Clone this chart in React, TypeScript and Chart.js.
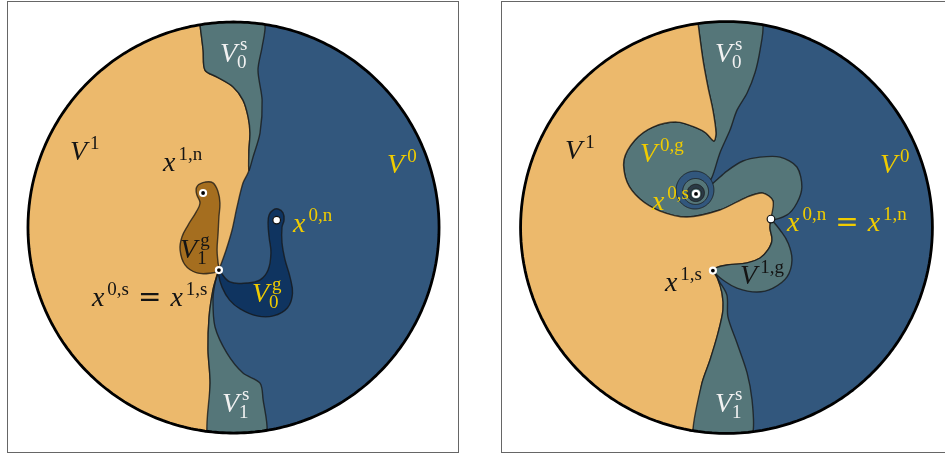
import React, { useEffect, useRef } from 'react';
import { Chart, registerables } from 'chart.js';

Chart.register(...registerables);

type Pt = [number, number];

// Palette
const ORANGE = '#ECB96C';
const BLUE = '#32577D';
const TEAL = '#557679';
const BROWN = '#A56E1F';
const NAVY = '#0F3460';
const DUSK = '#2B3A45';
const EDGE = 'rgba(22,22,22,0.75)';
const INK = '#141414';
const GOLD = '#F0CC00';
const CHALK = '#F2F2F2';

// Coordinates: unit disk scaled to radius 100, centre at the origin, y up.

// ---- Left panel ----
const p1TopStripWest: Pt[] = [
  [-16.3, 98.5], [-14.8, 86.4], [-13.9, 76.6], [-8.0, 73.2], [-0.2, 68.4],
  [4.6, 62.0], [7.1, 53.8], [8.0, 46.0], [7.5, 37.7], [7.5, 27.9],
];
const p1TopStripEast: Pt[] = [
  [15.3, 98.5], [13.9, 87.8], [11.9, 76.6], [13.9, 62.0], [12.9, 46.0], [9.5, 34.3], [7.5, 27.9],
];
const p1Seam: Pt[] = [
  [7.5, 27.9], [4.6, 21.7], [1.7, 10.0], [-0.7, -1.2], [-3.6, -10.9], [-7.1, -20.7],
];
const p1BotStripWest: Pt[] = [
  [-7.1, -20.7], [-8.0, -23.1], [-10.0, -30.4], [-11.9, -43.6], [-12.4, -59.6], [-11.4, -75.7], [-12.9, -99.0],
];
const p1BotStripEast: Pt[] = [
  [-7.1, -20.7], [-9.0, -27.0], [-10.0, -35.3], [-9.0, -48.4], [-3.2, -61.1],
  [4.6, -70.8], [12.9, -75.7], [14.4, -83.9], [16.3, -98.6],
];
const p1GourdOne: Pt[] = [
  [-17.3, 20.7], [-13.9, 22.1], [-10.0, 21.7], [-7.5, 17.3], [-6.6, 11.9], [-7.1, 5.1],
  [-7.5, -2.7], [-8.0, -10.9], [-7.5, -17.3], [-7.1, -20.7], [-10.5, -22.1], [-17.8, -22.1],
  [-23.6, -18.2], [-26.0, -10.9], [-25.1, -4.6], [-22.1, 1.2], [-18.2, 7.5], [-16.3, 11.9],
  [-17.8, 15.8], [-18.2, 18.7],
];
const p1GourdZero: Pt[] = [
  [-7.1, -20.7], [-1.7, -26.5], [6.6, -27.0], [12.9, -25.5], [16.8, -20.7], [18.2, -12.4],
  [17.3, -4.6], [16.8, 2.2], [17.3, 6.1], [19.2, 8.5], [21.7, 9.0], [24.1, 7.1], [24.6, 3.6],
  [23.6, 0.2], [23.6, -7.5], [25.1, -15.8], [27.5, -24.1], [28.7, -32.1], [26.3, -39.0],
  [19.4, -43.0], [11.4, -43.0], [3.2, -39.6], [-1.9, -35.3], [-5.6, -29.0], [-7.5, -22.1],
];
const p1Saddle: Pt = [-7.1, -20.7];
const p1North1: Pt = [-14.8, 16.8];
const p1North0: Pt = [21.0, 3.6];

// ---- Right panel ----
const p2TopStripWest: Pt[] = [
  [-13.8, 99.0], [-11.4, 81.3], [-9.0, 68.2], [-6.6, 57.0], [-5.1, 45.9], [-6.1, 42.0],
];
const p2LobeWestRim: Pt[] = [
  [-10.0, 45.9], [-14.3, 48.3], [-24.0, 51.2], [-35.7, 48.8], [-44.4, 42.5], [-49.8, 32.8],
  [-48.3, 22.1], [-42.0, 13.8], [-32.3, 8.0], [-19.2, 5.1], [-3.2, 8.5], [10.0, 14.8],
  [17.7, 16.7], [22.6, 12.9], [21.6, 4.1],
];
const p2TopStripEast: Pt[] = [
  [17.7, 98.3], [16.3, 86.2], [13.8, 75.0], [10.0, 65.3], [5.1, 57.0], [1.7, 47.3],
  [-3.2, 36.2], [-7.0, 24.5], [-10.4, 19.2],
];
const p2LobeEastCrest: Pt[] = [
  [-7.0, 21.1], [0.2, 27.4], [8.0, 32.3], [16.3, 34.2], [26.0, 34.2], [34.2, 29.4],
  [36.6, 19.7], [34.2, 11.9], [29.4, 6.1], [21.6, 4.1],
];
const p2GourdOuter: Pt[] = [
  [21.6, 4.1], [26.0, -1.2], [29.9, -7.5], [31.8, -15.8], [29.4, -24.0], [22.6, -29.4],
  [14.8, -31.3], [5.1, -29.4], [-1.7, -25.5], [-5.6, -22.1], [-6.6, -20.9],
];
const p2GourdInner: Pt[] = [
  [21.6, 4.1], [21.1, -0.2], [22.1, -6.1], [20.1, -10.9], [16.3, -14.8], [10.0, -17.2],
  [0.2, -18.2], [-5.6, -19.7], [-6.6, -20.9],
];
const p2BotStripWest: Pt[] = [
  [-6.6, -20.9], [-4.6, -24.0], [-2.2, -31.8], [-1.7, -40.0], [-4.1, -51.2], [-8.0, -64.3],
  [-11.9, -75.5], [-16.3, -98.6],
];
const p2BotStripEast: Pt[] = [
  [-6.6, -20.9], [-3.6, -26.0], [0.2, -32.8], [0.7, -43.4], [5.1, -56.1], [10.0, -70.6],
  [12.4, -83.7], [12.9, -99.0],
];
// whorl around x^{0,s}: [cx, cy, r], outermost first
const p2Whorl: [number, number, number][] = [
  [-15.3, 18.2, 9.2], [-15.0, 17.5, 6.3], [-14.9, 16.8, 4.2], [-14.8, 16.4, 2.6],
];
const p2WhorlColors = [BLUE, TEAL, DUSK, TEAL];
const p2South0: Pt = [-14.8, 16.3];
const p2North: Pt = [21.6, 4.1];
const p2South1: Pt = [-6.6, -20.9];

// ---- Labels ----
type Token = string[];
type MathLabel = { x: number; y: number; color: string; tokens: Token[] };

const p1Labels: MathLabel[] = [
  { x: -79.6, y: 32.8, color: INK, tokens: [['i', 'V'], ['sup', '1']] },
  { x: -34.3, y: 27.5, color: INK, tokens: [['i', 'x'], ['sup', '1,n']] },
  { x: 74.7, y: 26.5, color: GOLD, tokens: [['i', 'V'], ['sup', '0']] },
  { x: 29.0, y: -2.2, color: GOLD, tokens: [['i', 'x'], ['sup', '0,n']] },
  { x: -26.0, y: -14.8, color: INK, tokens: [['i', 'V'], ['ss', '1', 'g']] },
  { x: 9.0, y: -36.3, color: GOLD, tokens: [['i', 'V'], ['ss', '0', 'g']] },
  { x: -68.9, y: -38.2, color: INK, tokens: [['i', 'x'], ['sup', '0,s'], ['op', '='], ['i', 'x'], ['sup', '1,s']] },
  { x: -6.6, y: 80.5, color: CHALK, tokens: [['i', 'V'], ['ss', '0', 's']] },
  { x: -5.6, y: -89.8, color: CHALK, tokens: [['i', 'V'], ['ss', '1', 's']] },
];
const p2Labels: MathLabel[] = [
  { x: -78.4, y: 33.3, color: INK, tokens: [['i', 'V'], ['sup', '1']] },
  { x: -42.0, y: 31.8, color: GOLD, tokens: [['i', 'V'], ['sup', '0,g']] },
  { x: 74.5, y: 26.5, color: GOLD, tokens: [['i', 'V'], ['sup', '0']] },
  { x: -36.2, y: 8.5, color: GOLD, tokens: [['i', 'x'], ['sup', '0,s']] },
  { x: 29.4, y: -1.7, color: GOLD, tokens: [['i', 'x'], ['sup', '0,n'], ['op', '='], ['i', 'x'], ['sup', '1,n']] },
  { x: -29.9, y: -30.8, color: INK, tokens: [['i', 'x'], ['sup', '1,s']] },
  { x: 6.6, y: -27.4, color: INK, tokens: [['i', 'V'], ['sup', '1,g']] },
  { x: -5.6, y: 80.3, color: CHALK, tokens: [['i', 'V'], ['ss', '0', 's']] },
  { x: -5.6, y: -89.6, color: CHALK, tokens: [['i', 'V'], ['ss', '1', 's']] },
];

// ---- Geometry helpers ----
const RIM_R = 100;
const deg = (p: Pt) => (Math.atan2(p[1], p[0]) * 180) / Math.PI;

function arc(from: Pt, to: Pt, ccw: boolean): Pt[] {
  const a0 = deg(from);
  let a1 = deg(to);
  if (ccw) { while (a1 <= a0) a1 += 360; } else { while (a1 >= a0) a1 -= 360; }
  const n = Math.max(2, Math.ceil(Math.abs(a1 - a0) / 2));
  const out: Pt[] = [];
  for (let i = 1; i < n; i++) {
    const a = ((a0 + ((a1 - a0) * i) / n) * Math.PI) / 180;
    out.push([RIM_R * Math.cos(a), RIM_R * Math.sin(a)]);
  }
  return out;
}

function ring(cx: number, cy: number, r: number, n = 96): Pt[] {
  const out: Pt[] = [];
  for (let i = 0; i < n; i++) {
    const a = (2 * Math.PI * i) / n;
    out.push([cx + r * Math.cos(a), cy + r * Math.sin(a)]);
  }
  return out;
}

const rev = (a: Pt[]) => [...a].reverse();
const last = (a: Pt[]) => a[a.length - 1];

// a non-zero tension keeps Chart.js on the full path renderer (no pixel-column merging)
function shape(points: Pt[], color: string, tension = 0.3, edge = EDGE, width = 1.4): any {
  const closed = [...points, points[0]];
  return {
    data: closed.map(([x, y]) => ({ x, y })),
    backgroundColor: color,
    borderColor: edge,
    borderWidth: width,
    fill: color === 'transparent' ? false : 'shape',
    tension: Math.max(tension, 0.001),
    pointRadius: 0,
    borderJoinStyle: 'round',
  };
}

function markers(pts: Pt[], dark: boolean[]): any {
  return {
    data: pts.map(([x, y]) => ({ x, y })),
    showLine: false,
    fill: false,
    pointRadius: dark.map((d) => (d ? 3.0 : 3.8)),
    pointBackgroundColor: dark.map((d) => (d ? '#000' : '#fff')),
    pointBorderColor: dark.map((d) => (d ? '#fff' : '#111')),
    pointBorderWidth: dark.map((d) => (d ? 2.2 : 1.2)),
  };
}

function leftDatasets(): any[] {
  const rim = ring(0, 0, RIM_R, 180);
  const orange: Pt[] = [
    ...p1TopStripWest,
    ...p1Seam.slice(1),
    ...p1BotStripWest.slice(1),
    ...arc(last(p1BotStripWest), p1TopStripWest[0], false),
  ];
  const topStrip: Pt[] = [
    ...p1TopStripWest,
    ...rev(p1TopStripEast).slice(1),
    ...arc(p1TopStripEast[0], p1TopStripWest[0], true),
  ];
  const botStrip: Pt[] = [
    ...p1BotStripWest,
    ...arc(last(p1BotStripWest), last(p1BotStripEast), true),
    ...rev(p1BotStripEast).slice(0, -1),
  ];
  return [
    shape(rim, BLUE, 0, 'transparent', 0),
    shape(orange, ORANGE, 0.3),
    shape(topStrip, TEAL, 0.3),
    shape(botStrip, TEAL, 0.3),
    shape(p1GourdZero, NAVY, 0.4),
    shape(p1GourdOne, BROWN, 0.4),
    shape(rim, 'transparent', 0, '#000', 2.8),
    markers([p1North1, p1Saddle, p1North0], [true, true, false]),
  ];
}

function rightDatasets(): any[] {
  const rim = ring(0, 0, RIM_R, 180);
  const teal: Pt[] = [
    p2TopStripWest[0],
    ...arc(p2TopStripWest[0], p2TopStripEast[0], false),
    ...p2TopStripEast,
    ...p2LobeEastCrest,
    ...rev(p2LobeWestRim).slice(1),
    ...rev(p2TopStripWest).slice(0, -1),
  ];
  const orange: Pt[] = [
    ...p2TopStripWest,
    ...p2LobeWestRim,
    ...p2GourdInner.slice(1),
    ...p2BotStripWest.slice(1),
    ...arc(last(p2BotStripWest), p2TopStripWest[0], false),
  ];
  const gourd: Pt[] = [...p2GourdOuter, ...rev(p2GourdInner).slice(1, -1)];
  const botStrip: Pt[] = [
    ...p2BotStripWest,
    ...arc(last(p2BotStripWest), last(p2BotStripEast), true),
    ...rev(p2BotStripEast).slice(0, -1),
  ];
  return [
    shape(rim, BLUE, 0, 'transparent', 0),
    shape(teal, TEAL, 0.3),
    shape(orange, ORANGE, 0.3),
    ...p2Whorl.map(([cx, cy, r], i) => shape(ring(cx, cy, r, 60), p2WhorlColors[i], 0, EDGE, 1)),
    shape(gourd, TEAL, 0.4),
    shape(botStrip, TEAL, 0.3),
    shape(rim, 'transparent', 0, '#000', 2.8),
    markers([p2South0, p2North, p2South1], [true, false, true]),
  ];
}

// ---- Math-style text ----
const SERIF = '"Liberation Serif", "Times New Roman", serif';
const BASE_PX = 28;
const SMALL_PX = 19;

function drawMath(ctx: CanvasRenderingContext2D, px: number, py: number, label: MathLabel) {
  let cx = px;
  ctx.save();
  ctx.fillStyle = label.color;
  ctx.textBaseline = 'alphabetic';
  ctx.textAlign = 'left';
  for (const tok of label.tokens) {
    const kind = tok[0];
    if (kind === 'i') {
      ctx.font = `italic ${BASE_PX}px ${SERIF}`;
      ctx.fillText(tok[1], cx, py);
      cx += ctx.measureText(tok[1]).width;
    } else if (kind === 'op') {
      cx += 9;
      ctx.font = `${BASE_PX}px "DejaVu Serif", serif`;
      ctx.fillText(tok[1], cx, py);
      cx += ctx.measureText(tok[1]).width + 9;
    } else if (kind === 'sup') {
      ctx.font = `${SMALL_PX}px ${SERIF}`;
      const sx = cx + 3;
      ctx.fillText(tok[1], sx, py - 11);
      cx = sx + ctx.measureText(tok[1]).width;
    } else if (kind === 'ss') {
      ctx.font = `${SMALL_PX}px ${SERIF}`;
      const wSub = ctx.measureText(tok[1]).width;
      const wSup = ctx.measureText(tok[2]).width;
      ctx.fillText(tok[1], cx, py + 6);
      ctx.fillText(tok[2], cx + 3, py - 12);
      cx += Math.max(wSub, wSup + 3);
    }
  }
  ctx.restore();
}

function mathLabels(labels: MathLabel[]) {
  return {
    id: 'mathLabels',
    afterDatasetsDraw(chart: any) {
      const { ctx, scales } = chart;
      for (const l of labels) {
        drawMath(ctx, scales.x.getPixelForValue(l.x), scales.y.getPixelForValue(l.y), l);
      }
    },
  };
}

type PanelCfg = {
  left: number;
  top: number;
  size: number;
  x: [number, number];
  y: [number, number];
  build: () => any[];
  labels: MathLabel[];
};

const PANELS: PanelCfg[] = [
  { left: 7, top: 1, size: 452, x: [-110.2, 109.7], y: [-109.7, 110.2], build: leftDatasets, labels: p1Labels },
  { left: 501, top: 1, size: 452, x: [-109.5, 110.0], y: [-109.5, 110.0], build: rightDatasets, labels: p2Labels },
];

function Panel({ cfg }: { cfg: PanelCfg }) {
  const ref = useRef<HTMLCanvasElement>(null);
  useEffect(() => {
    if (!ref.current) return;
    const ds = cfg.build();
    const n = ds.length;
    ds.forEach((d, i) => { d.order = n - i; });
    const chart = new Chart(ref.current, {
      type: 'line',
      data: { datasets: ds },
      options: {
        animation: false,
        responsive: false,
        events: [],
        layout: { padding: 0, autoPadding: false },
        plugins: { legend: { display: false }, tooltip: { enabled: false }, title: { display: false } },
        scales: {
          x: { type: 'linear', min: cfg.x[0], max: cfg.x[1], display: false, bounds: 'data' },
          y: { type: 'linear', min: cfg.y[0], max: cfg.y[1], display: false, bounds: 'data' },
        },
      } as any,
      plugins: [mathLabels(cfg.labels)],
    });
    return () => chart.destroy();
  }, [cfg]);
  return (
    <>
      <div
        style={{
          position: 'absolute', left: cfg.left, top: cfg.top, width: cfg.size, height: cfg.size,
          border: '1px solid #666', boxSizing: 'border-box',
        }}
      />
      <canvas
        ref={ref}
        width={cfg.size}
        height={cfg.size}
        style={{ position: 'absolute', left: cfg.left, top: cfg.top, width: cfg.size, height: cfg.size }}
      />
    </>
  );
}

export default function App() {
  return (
    <div style={{ position: 'absolute', left: 0, top: 0, width: 945, height: 454, overflow: 'hidden', background: '#fff' }}>
      {PANELS.map((p, i) => (
        <Panel key={i} cfg={p} />
      ))}
    </div>
  );
}
